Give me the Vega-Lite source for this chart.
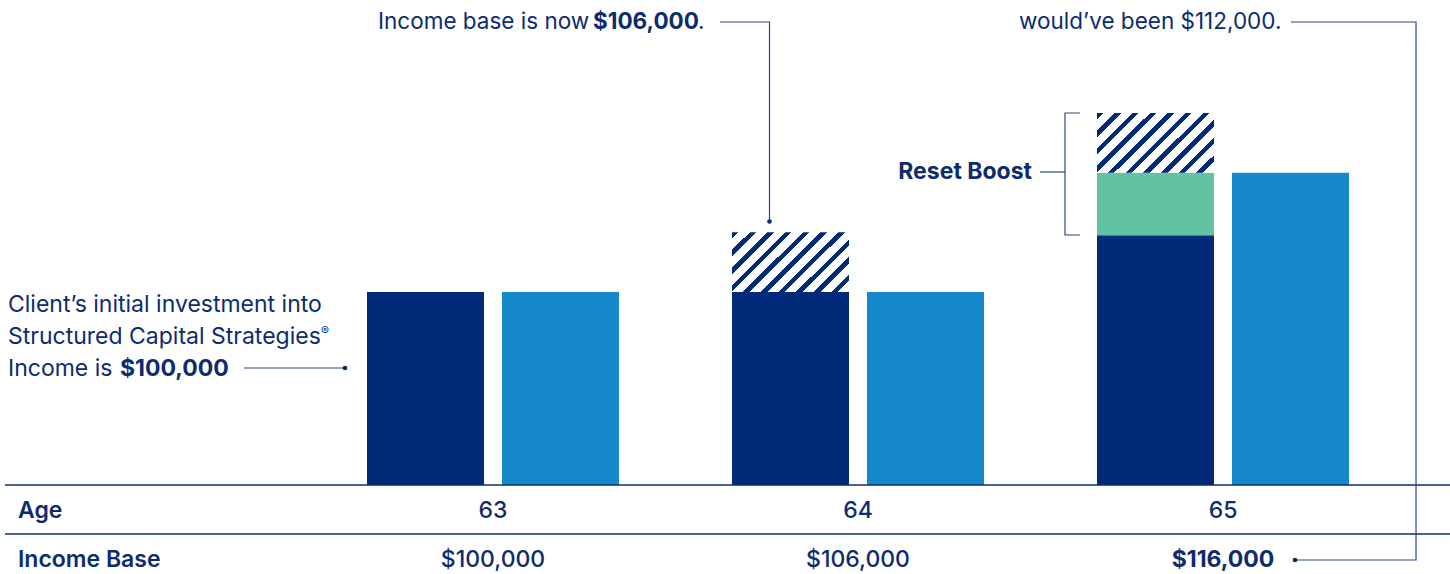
{
  "$schema": "https://vega.github.io/schema/vega-lite/v6.json",
  "width": 1450,
  "height": 574,
  "autosize": {"type": "none"},
  "padding": 0,
  "background": "white",
  "config": {"view": {"stroke": null}, "text": {"font": "Inter", "color": "#0d2c70"}},
  "datasets": {
    "bars": [
      {"age": 63, "side": "left", "segment": "base", "high": 100000},
      {"age": 63, "side": "right", "segment": "base", "high": 100000},
      {"age": 64, "side": "left", "segment": "base", "high": 100000},
      {"age": 64, "side": "left", "segment": "hatch", "low": 100000, "high": 106000},
      {"age": 64, "side": "right", "segment": "base", "high": 100000},
      {"age": 65, "side": "left", "segment": "base", "high": 105700},
      {"age": 65, "side": "left", "segment": "boost", "low": 105700, "high": 112000},
      {"age": 65, "side": "left", "segment": "hatch", "low": 112000, "high": 118000},
      {"age": 65, "side": "right", "segment": "base", "high": 112000}
    ],
    "notesLeft": [
      {"ax": 61.6712, "ay": 98024, "text": "Client’s initial investment into"},
      {"ax": 61.6712, "ay": 94777, "text": "Structured Capital Strategies"},
      {"ax": 61.6712, "ay": 91591, "text": "Income is"}
    ],
    "notesLeftBold": [
      {"ax": 61.9781, "ay": 91591, "text": "$100,000"}
    ],
    "notesTop": [
      {"ax": 62.6849, "ay": 126405, "text": "Income base is now"},
      {"ax": 63.5616, "ay": 126405, "text": "."},
      {"ax": 64.4411, "ay": 126405, "text": "would’ve been $112,000."}
    ],
    "notesTopBold": [
      {"ax": 63.274, "ay": 126405, "text": "$106,000"}
    ],
    "reset": [{"ax": 64.4767, "ay": 111330, "text": "Reset Boost"}],
    "reg": [{"ax": 62.5288, "ay": 95683, "text": "®"}],
    "tableLabels": [
      {"ax": 61.6986, "ay": 77260, "text": "Age"},
      {"ax": 61.6986, "ay": 72335, "text": "Income Base"}
    ],
    "tableValues": [
      {"ax": 63, "ay": 77260, "text": "63"},
      {"ax": 64, "ay": 77260, "text": "64"},
      {"ax": 65, "ay": 77260, "text": "65"},
      {"ax": 63, "ay": 72335, "text": "$100,000"},
      {"ax": 64, "ay": 72335, "text": "$106,000"}
    ],
    "tableBold": [{"ax": 65, "ay": 72335, "text": "$116,000"}],
    "links": [
      {"id": "a", "ord": 1, "ax": 62.3178, "ay": 92365},
      {"id": "a", "ord": 2, "ax": 62.5945, "ay": 92365},
      {"id": "b", "ord": 1, "ax": 63.6219, "ay": 127140},
      {"id": "b", "ord": 2, "ax": 63.7575, "ay": 127140},
      {"id": "b", "ord": 3, "ax": 63.7575, "ay": 107090},
      {"id": "c", "ord": 1, "ax": 65.1863, "ay": 127140},
      {"id": "c", "ord": 2, "ax": 65.5288, "ay": 127140},
      {"id": "c", "ord": 3, "ax": 65.5288, "ay": 73069},
      {"id": "c", "ord": 4, "ax": 65.1973, "ay": 73069},
      {"id": "d", "ord": 1, "ax": 64.4986, "ay": 112064},
      {"id": "d", "ord": 2, "ax": 64.5671, "ay": 112064},
      {"id": "e", "ord": 1, "ax": 64.6082, "ay": 117993},
      {"id": "e", "ord": 2, "ax": 64.5671, "ay": 117993},
      {"id": "e", "ord": 3, "ax": 64.5671, "ay": 105732},
      {"id": "e", "ord": 4, "ax": 64.6082, "ay": 105732}
    ],
    "dots": [
      {"ax": 62.5945, "ay": 92365},
      {"ax": 63.7575, "ay": 107090},
      {"ax": 65.1973, "ay": 73069}
    ],
    "grid": [
      {"id": "r1", "ord": 1, "ax": 61.663, "ay": 80606},
      {"id": "r1", "ord": 2, "ax": 65.6219, "ay": 80606},
      {"id": "r2", "ord": 1, "ax": 61.663, "ay": 75682},
      {"id": "r2", "ord": 2, "ax": 65.6219, "ay": 75682}
    ]
  },
  "resolve": {"scale": {"x": "independent"}},
  "layer": [
    {
      "data": {"name": "bars"},
      "encoding": {
        "x": {"field": "age", "type": "ordinal", "axis": null, "scale": {"domain": [63, 64, 65], "paddingInner": 0.30959, "paddingOuter": 0.641096, "align": 0.78419}},
        "xOffset": {"field": "side", "type": "nominal", "scale": {"domain": ["left", "right"], "paddingInner": 0.13333, "paddingOuter": 0}},
        "y": {"field": "high", "type": "quantitative", "axis": null, "scale": {"domain": [71660, 129350], "nice": false, "zero": false}}
      },
      "layer": [
        {
          "transform": [{"filter": "datum.segment === 'base'"}],
          "mark": {"type": "bar"},
          "encoding": {
            "y2": {"datum": 80606},
            "color": {"field": "side", "type": "nominal", "legend": null, "scale": {"domain": ["left", "right"], "range": ["#012B78", "#1589CA"]}}
          }
        },
        {
          "transform": [{"filter": "datum.segment === 'boost'"}],
          "mark": {"type": "bar", "color": "#62C3A2"},
          "encoding": {"y2": {"field": "low"}}
        },
        {
          "transform": [{"filter": "datum.segment === 'hatch'"}],
          "mark": {
            "type": "bar",
            "fill": {
              "gradient": "linear", "x1": 0, "y1": 0, "x2": 1.1978, "y2": 0.6142,
              "stops": [
                {"offset": 0, "color": "#012B78"}, {"offset": 0.037, "color": "#012B78"}, {"offset": 0.037, "color": "#ffffff"}, {"offset": 0.1, "color": "#ffffff"},
                {"offset": 0.1, "color": "#012B78"}, {"offset": 0.137, "color": "#012B78"}, {"offset": 0.137, "color": "#ffffff"}, {"offset": 0.2, "color": "#ffffff"},
                {"offset": 0.2, "color": "#012B78"}, {"offset": 0.237, "color": "#012B78"}, {"offset": 0.237, "color": "#ffffff"}, {"offset": 0.3, "color": "#ffffff"},
                {"offset": 0.3, "color": "#012B78"}, {"offset": 0.337, "color": "#012B78"}, {"offset": 0.337, "color": "#ffffff"}, {"offset": 0.4, "color": "#ffffff"},
                {"offset": 0.4, "color": "#012B78"}, {"offset": 0.437, "color": "#012B78"}, {"offset": 0.437, "color": "#ffffff"}, {"offset": 0.5, "color": "#ffffff"},
                {"offset": 0.5, "color": "#012B78"}, {"offset": 0.537, "color": "#012B78"}, {"offset": 0.537, "color": "#ffffff"}, {"offset": 0.6, "color": "#ffffff"},
                {"offset": 0.6, "color": "#012B78"}, {"offset": 0.637, "color": "#012B78"}, {"offset": 0.637, "color": "#ffffff"}, {"offset": 0.7, "color": "#ffffff"},
                {"offset": 0.7, "color": "#012B78"}, {"offset": 0.737, "color": "#012B78"}, {"offset": 0.737, "color": "#ffffff"}, {"offset": 0.8, "color": "#ffffff"},
                {"offset": 0.8, "color": "#012B78"}, {"offset": 0.837, "color": "#012B78"}, {"offset": 0.837, "color": "#ffffff"}, {"offset": 0.9, "color": "#ffffff"},
                {"offset": 0.9, "color": "#012B78"}, {"offset": 0.937, "color": "#012B78"}, {"offset": 0.937, "color": "#ffffff"}, {"offset": 1, "color": "#ffffff"}
              ]
            },
            "stroke": null
          },
          "encoding": {"y2": {"field": "low"}}
        }
      ]
    },
    {
      "encoding": {
        "x": {"field": "ax", "type": "quantitative", "axis": null, "scale": {"domain": [61.6493, 65.6219], "nice": false, "zero": false}},
        "y": {"field": "ay", "type": "quantitative", "axis": null, "scale": {"domain": [71660, 129350], "nice": false, "zero": false}}
      },
      "layer": [
        {
          "data": {"name": "grid"},
          "mark": {"type": "line", "color": "#0d2c70", "strokeWidth": 1.6},
          "encoding": {"detail": {"field": "id"}, "order": {"field": "ord"}}
        },
        {
          "data": {"name": "links"},
          "mark": {"type": "line", "color": "#2b4585", "strokeWidth": 1.2},
          "encoding": {"detail": {"field": "id"}, "order": {"field": "ord"}}
        },
        {
          "data": {"name": "dots"},
          "mark": {"type": "point", "filled": true, "size": 22, "color": "#0d2c70", "opacity": 1}
        },
        {
          "data": {"name": "notesLeft"},
          "mark": {"type": "text", "align": "left", "baseline": "alphabetic", "fontSize": 23, "fontWeight": 400},
          "encoding": {"text": {"field": "text"}}
        },
        {
          "data": {"name": "notesLeftBold"},
          "mark": {"type": "text", "align": "left", "baseline": "alphabetic", "fontSize": 23, "fontWeight": 700},
          "encoding": {"text": {"field": "text"}}
        },
        {
          "data": {"name": "notesTop"},
          "mark": {"type": "text", "align": "left", "baseline": "alphabetic", "fontSize": 22.5, "fontWeight": 400},
          "encoding": {"text": {"field": "text"}}
        },
        {
          "data": {"name": "notesTopBold"},
          "mark": {"type": "text", "align": "left", "baseline": "alphabetic", "fontSize": 22.5, "fontWeight": 700},
          "encoding": {"text": {"field": "text"}}
        },
        {
          "data": {"name": "reset"},
          "mark": {"type": "text", "align": "right", "baseline": "alphabetic", "fontSize": 23, "fontWeight": 700},
          "encoding": {"text": {"field": "text"}}
        },
        {
          "data": {"name": "reg"},
          "mark": {"type": "text", "align": "left", "baseline": "alphabetic", "fontSize": 12, "fontWeight": 400},
          "encoding": {"text": {"field": "text"}}
        },
        {
          "data": {"name": "tableLabels"},
          "mark": {"type": "text", "align": "left", "baseline": "alphabetic", "fontSize": 23, "fontWeight": 600},
          "encoding": {"text": {"field": "text"}}
        },
        {
          "data": {"name": "tableValues"},
          "mark": {"type": "text", "align": "center", "baseline": "alphabetic", "fontSize": 23, "fontWeight": 500},
          "encoding": {"text": {"field": "text"}}
        },
        {
          "data": {"name": "tableBold"},
          "mark": {"type": "text", "align": "center", "baseline": "alphabetic", "fontSize": 23, "fontWeight": 700},
          "encoding": {"text": {"field": "text"}}
        }
      ]
    }
  ]
}
